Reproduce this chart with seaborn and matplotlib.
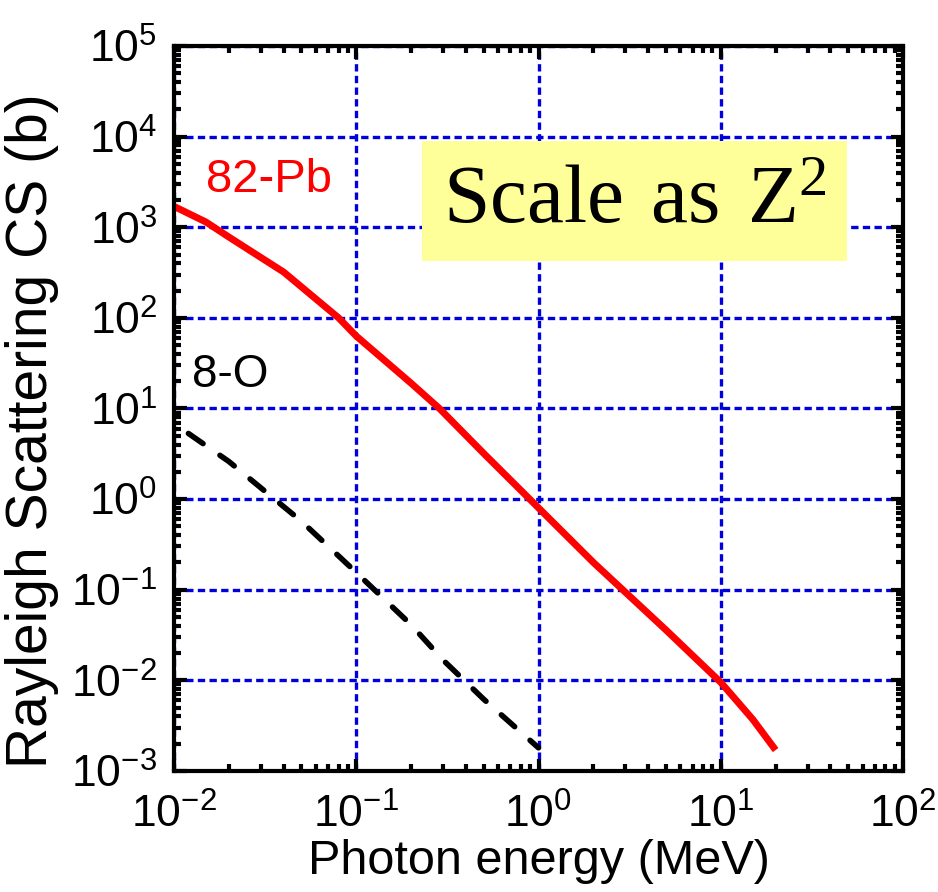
import numpy as np
import pandas as pd
import matplotlib
matplotlib.use("Agg")
import matplotlib.pyplot as plt
import seaborn as sns
from matplotlib.ticker import LogLocator, FixedLocator, NullFormatter

# ---- data ----
pb_energy = [0.01, 0.015, 0.02, 0.04, 0.06, 0.08, 0.1, 0.2, 0.286, 0.5, 1.0, 2.0, 5.0, 10.0, 15.0, 20.0]
pb_cs = [1700, 1140, 780, 320, 162, 100, 63, 19, 10, 3.2, 0.8, 0.2, 0.036, 0.0095, 0.0037, 0.0017]

o_energy = [0.012, 0.02, 0.05, 0.1, 0.2, 0.3, 0.5, 1.0]
o_cs = [5.3, 2.6, 0.57, 0.155, 0.041, 0.0167, 0.0062, 0.0018]

x_ticks = [1e-2, 1e-1, 1e0, 1e1, 1e2]
y_ticks = [1e-3, 1e-2, 1e-1, 1e0, 1e1, 1e2, 1e3, 1e4, 1e5]

pb_label = "82-Pb"
o_label = "8-O"
note_text = r"$\mathrm{Scale\ as\ Z^{2}}$"
x_title = "Photon energy (MeV)"
y_title = "Rayleigh Scattering CS (b)"

sns.set_style("ticks")
plt.rcParams["font.family"] = ["Liberation Sans", "DejaVu Sans"]
plt.rcParams["mathtext.fontset"] = "custom"
plt.rcParams["mathtext.rm"] = "Liberation Serif"
plt.rcParams["mathtext.sf"] = "Liberation Sans"
plt.rcParams["text.color"] = "black"
plt.rcParams["axes.labelcolor"] = "black"
plt.rcParams["xtick.color"] = "black"
plt.rcParams["ytick.color"] = "black"

pb_df = pd.DataFrame({"E": pb_energy, "CS": pb_cs})
o_df = pd.DataFrame({"E": o_energy, "CS": o_cs})

fig = plt.figure(figsize=(9.38, 8.92), dpi=100)
ax = fig.add_axes([0.1855, 0.1357, 0.7772, 0.8127])

sns.lineplot(data=pb_df, x="E", y="CS", ax=ax, color="#ff0000", linewidth=5.0, zorder=4)
ax.lines[-1].set_solid_capstyle("butt")
sns.lineplot(data=o_df, x="E", y="CS", ax=ax, color="black", linewidth=4.0, zorder=4)
line_o = ax.lines[-1]
line_o.set_dashes((3.2, 3.7))
line_o.set_dash_capstyle("round")

ax.set_xscale("log")
ax.set_yscale("log")
ax.set_xlim(1e-2, 1e2)
ax.set_ylim(1e-3, 1e5)

ax.xaxis.set_major_locator(FixedLocator(x_ticks))
ax.yaxis.set_major_locator(FixedLocator(y_ticks))
ax.xaxis.set_minor_locator(LogLocator(base=10, subs=np.arange(2, 10), numticks=20))
ax.yaxis.set_minor_locator(LogLocator(base=10, subs=np.arange(2, 10), numticks=20))
ax.xaxis.set_minor_formatter(NullFormatter())
ax.yaxis.set_minor_formatter(NullFormatter())

def fmt(v):
    e = int(round(np.log10(v)))
    return r"$\mathsf{10^{%d}}$" % e

ax.set_xticklabels([fmt(v) for v in x_ticks])
ax.set_yticklabels([fmt(v) for v in y_ticks])

ax.tick_params(which="both", direction="in", top=True, right=True, width=3.0, color="black")
ax.tick_params(which="major", length=9)
ax.tick_params(which="minor", length=5)
ax.tick_params(axis="x", which="major", labelsize=32, pad=16)
ax.tick_params(axis="y", which="major", labelsize=32, pad=12)

for sp in ax.spines.values():
    sp.set_linewidth(3.0)
    sp.set_color("black")
    sp.set_zorder(5)

ax.grid(True, which="major", color="#0000dd", lw=2.4, linestyle=(0, (2.2, 1.3)))
for gl in ax.get_xgridlines() + ax.get_ygridlines():
    gl.set_zorder(2)

ax.set_xlabel(x_title, fontsize=35, labelpad=2)
ax.set_ylabel(y_title, fontsize=41)
ax.yaxis.set_label_coords(-0.158, 0.47)

ax.text(0.13, 0.815, pb_label, transform=ax.transAxes, color="#ff0000",
        fontsize=34, ha="center", va="center", zorder=6)
ax.text(0.077, 0.546, o_label, transform=ax.transAxes, color="black",
        fontsize=33, ha="center", va="center", zorder=6)

ax.text(0.632, 0.786, note_text, transform=ax.transAxes, color="black",
        fontsize=60, ha="center", va="center", zorder=6,
        bbox=dict(boxstyle="square,pad=0.25", facecolor="#ffff99", edgecolor="none"))

fig.savefig("out.png", dpi=100)
